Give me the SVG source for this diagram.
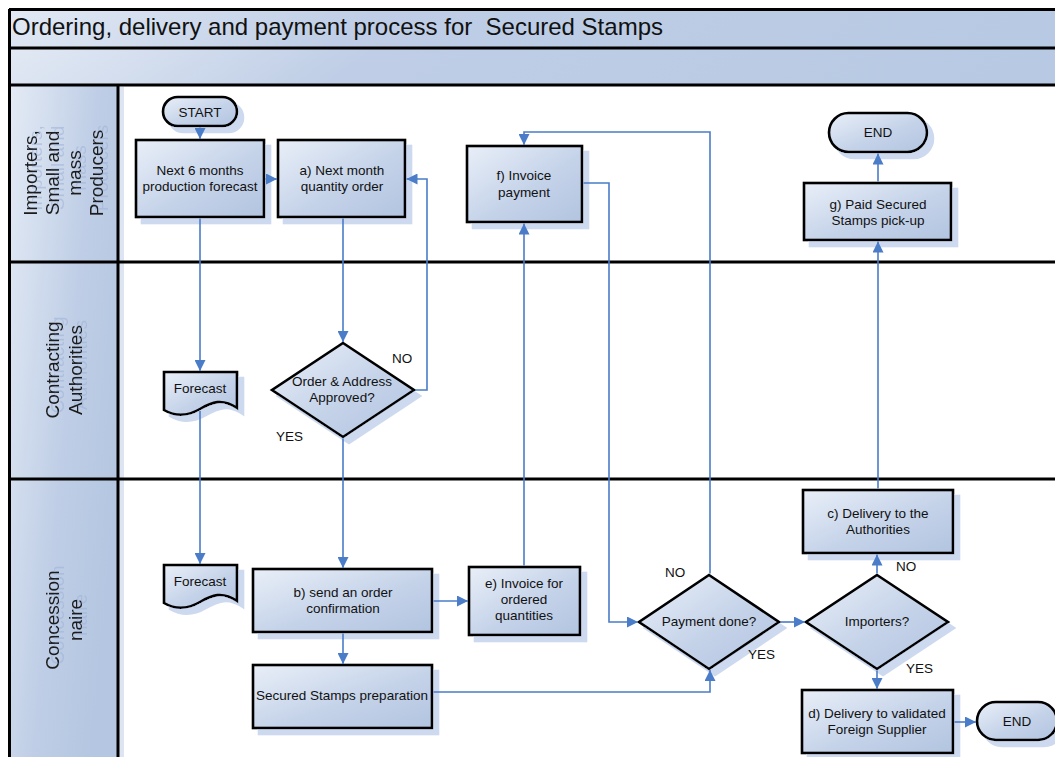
<svg xmlns="http://www.w3.org/2000/svg" width="1055" height="757" viewBox="0 0 1055 757">
<defs>
<linearGradient id="gNode" x1="0" y1="0" x2="1" y2="1"><stop offset="0" stop-color="#e9eff8"/><stop offset="0.55" stop-color="#c5d3e9"/><stop offset="1" stop-color="#b2c4e0"/></linearGradient>
<linearGradient id="gLane" x1="0" y1="0" x2="1" y2="0.6"><stop offset="0" stop-color="#e4ebf5"/><stop offset="0.6" stop-color="#bfcee6"/><stop offset="1" stop-color="#b4c6e1"/></linearGradient>
<linearGradient id="gBar" x1="0" y1="0" x2="1" y2="0.05"><stop offset="0" stop-color="#e2e9f4"/><stop offset="0.35" stop-color="#bfcee6"/><stop offset="1" stop-color="#b8c9e3"/></linearGradient>
<filter id="sh" x="-10%" y="-10%" width="130%" height="140%">
<feOffset in="SourceAlpha" dx="6" dy="6" result="o"/>
<feFlood flood-color="#cdd9ee"/>
<feComposite in2="o" operator="in" result="s"/>
<feMerge><feMergeNode in="s"/><feMergeNode in="SourceGraphic"/></feMerge>
</filter>
<filter id="tsh" x="-10%" y="-10%" width="130%" height="130%">
<feOffset in="SourceAlpha" dx="5" dy="5" result="o"/>
<feFlood flood-color="#9fb3d8" flood-opacity="0.6"/>
<feComposite in2="o" operator="in" result="s"/>
<feMerge><feMergeNode in="s"/><feMergeNode in="SourceGraphic"/></feMerge>
</filter>
<marker id="ah" viewBox="0 0 10 10" refX="10" refY="5" markerWidth="11" markerHeight="11" markerUnits="userSpaceOnUse" orient="auto">
<path d="M0,0 L10,5 L0,10 z" fill="#4a7cc8"/>
</marker>
<style>
.node{fill:url(#gNode);stroke:#000;stroke-width:2.6;filter:url(#sh)}
.t{font-family:"Liberation Sans",Arial,sans-serif;font-size:13.5px;fill:#111;text-anchor:middle}
.lbl{font-family:"Liberation Sans",Arial,sans-serif;font-size:13.5px;fill:#111}
.lane{font-family:"Liberation Sans",Arial,sans-serif;font-size:19px;fill:#1a1a1a;text-anchor:middle;filter:url(#tsh)}
.c{fill:none;stroke:#4a7cc8;stroke-width:1.6;marker-end:url(#ah)}
.sep{stroke:#000;stroke-width:3}
</style>
</defs>
<rect x="0" y="0" width="1055" height="757" fill="#fff"/>

<g id="frame">
<rect x="9" y="9" width="1050" height="39" fill="url(#gBar)"/>
<rect x="9" y="48" width="1050" height="37" fill="url(#gBar)"/>
<text x="12" y="35" font-family="'Liberation Sans',Arial,sans-serif" font-size="24" fill="#111" style="white-space:pre" xml:space="preserve">Ordering, delivery and payment process for  Secured Stamps</text>
<rect x="9" y="85" width="109" height="672" fill="url(#gLane)"/>
<rect x="119" y="87" width="5" height="670" fill="#dde5f2"/>
<line class="sep" x1="9" y1="9.5" x2="1055" y2="9.5" stroke-width="2"/>
<line class="sep" x1="9" y1="48" x2="1055" y2="48"/>
<line class="sep" x1="9" y1="85" x2="1055" y2="85"/>
<line class="sep" x1="9" y1="262" x2="1055" y2="262"/>
<line class="sep" x1="9" y1="479" x2="1055" y2="479"/>
<line class="sep" x1="9.5" y1="9" x2="9.5" y2="757" stroke-width="2"/>
<line class="sep" x1="118" y1="85" x2="118" y2="757"/>
</g>

<g id="lane1"><text class="lane" transform="translate(63,173) rotate(-90)"><tspan x="0" y="-26">Importers,</tspan><tspan x="0" y="-4">Small and</tspan><tspan x="0" y="18">mass</tspan><tspan x="0" y="40">Producers</tspan></text></g>
<g id="lane2"><text class="lane" transform="translate(63,370) rotate(-90)"><tspan x="0" y="-4">Contracting</tspan><tspan x="0" y="19">Authorities</tspan></text></g>
<g id="lane3"><text class="lane" transform="translate(63,620) rotate(-90)"><tspan x="0" y="-4">Concession</tspan><tspan x="0" y="19">naire</tspan></text></g>

<g id="start"><rect class="node" x="163" y="97" width="74" height="29" rx="14.5"/><text class="t" x="200" y="117">START</text></g>
<g id="next6"><rect class="node" x="136" y="140" width="128" height="77"/><text class="t" x="200" y="175">Next 6 months</text><text class="t" x="200" y="191">production forecast</text></g>
<g id="nodeA"><rect class="node" x="278" y="140" width="127" height="77"/><text class="t" x="342" y="175">a) Next month</text><text class="t" x="342" y="191">quantity order</text></g>
<g id="nodeF"><rect class="node" x="467" y="146" width="115" height="76"/><text class="t" x="524" y="180">f) Invoice</text><text class="t" x="524" y="197">payment</text></g>
<g id="end1"><rect class="node" x="829" y="113" width="98" height="39" rx="19.5"/><text class="t" x="878" y="137">END</text></g>
<g id="nodeG"><rect class="node" x="804" y="183" width="147" height="57"/><text class="t" x="878" y="209">g) Paid Secured</text><text class="t" x="878" y="225">Stamps pick-up</text></g>
<g id="forecast1"><path class="node" d="M164,372 H237 V408 C222,398 212,402 200,409 C188,416 176,417 164,410 Z"/><text class="t" x="200" y="393">Forecast</text></g>
<g id="decision1"><path class="node" d="M343,343 L414,390 L343,437 L272,390 Z"/><text class="t" x="342" y="386">Order &amp; Address</text><text class="t" x="342" y="402">Approved?</text></g>
<g id="forecast2"><path class="node" d="M164,565 H237 V601 C222,591 212,595 200,602 C188,609 176,610 164,603 Z"/><text class="t" x="200" y="586">Forecast</text></g>
<g id="nodeB"><rect class="node" x="253" y="569" width="179" height="63"/><text class="t" x="343" y="597">b) send an order</text><text class="t" x="343" y="613">confirmation</text></g>
<g id="nodeE"><rect class="node" x="469" y="567" width="111" height="68"/><text class="t" x="524" y="588">e) Invoice for</text><text class="t" x="524" y="604">ordered</text><text class="t" x="524" y="620">quantities</text></g>
<g id="prep"><rect class="node" x="253" y="665" width="179" height="63"/><text class="t" x="342" y="700">Secured Stamps preparation</text></g>
<g id="payment"><path class="node" d="M709,575 L779,622 L709,669 L639,622 Z"/><text class="t" x="709" y="626">Payment done?</text></g>
<g id="importers"><path class="node" d="M877,575 L948,622 L877,669 L806,622 Z"/><text class="t" x="877" y="626">Importers?</text></g>
<g id="nodeC"><rect class="node" x="803" y="490" width="150" height="63"/><text class="t" x="878" y="518">c) Delivery to the</text><text class="t" x="878" y="534">Authorities</text></g>
<g id="nodeD"><rect class="node" x="802" y="690" width="151" height="63"/><text class="t" x="877" y="718">d) Delivery to validated</text><text class="t" x="877" y="734">Foreign Supplier</text></g>
<g id="end2"><rect class="node" x="977" y="702" width="80" height="38" rx="19"/><text class="t" x="1017" y="726">END</text></g>

<g id="connectors">
<path class="c" d="M200,127.5 V139"/>
<path class="c" d="M265.5,179 H277"/>
<path class="c" d="M200,218.5 V371"/>
<path class="c" d="M200,411 V564"/>
<path class="c" d="M343,218.5 V342"/>
<path class="c" d="M415,390 H427 V179 H406.5"/>
<path class="c" d="M343,438.5 V568"/>
<path class="c" d="M433.5,601 H468"/>
<path class="c" d="M343,633.5 V664"/>
<path class="c" d="M524,565.5 V223.5"/>
<path class="c" d="M583.5,183 H609 V622 H638"/>
<path class="c" d="M710,573.5 V132 H524 V145"/>
<path class="c" d="M433.5,692 H710 V670"/>
<path class="c" d="M780.5,622 H805"/>
<path class="c" d="M877,573.5 V554.5"/>
<path class="c" d="M877,670.5 V689"/>
<path class="c" d="M878,488.5 V241.5"/>
<path class="c" d="M878,181.5 V153.5"/>
<path class="c" d="M954.5,722 H976"/>
<text class="lbl" x="392" y="363">NO</text>
<text class="lbl" x="276" y="441">YES</text>
<text class="lbl" x="665" y="577">NO</text>
<text class="lbl" x="748" y="659">YES</text>
<text class="lbl" x="896" y="571">NO</text>
<text class="lbl" x="906" y="673">YES</text>
</g>
</svg>
